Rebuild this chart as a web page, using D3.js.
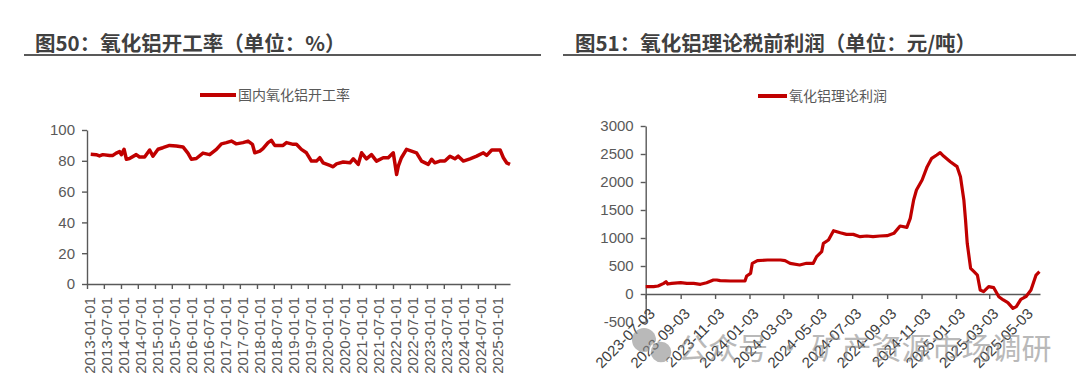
<!DOCTYPE html>
<html>
<head>
<meta charset="utf-8">
<script src="https://cdn.jsdelivr.net/npm/d3@7"></script>
<style>
body { margin: 0; background: #fff; }
svg { display: block; font-family: "Liberation Sans", Arial, "Noto Sans CJK SC", sans-serif; }
</style>
</head>
<body>
<svg id="chart"></svg>
<script>
// 图50 国内氧化铝开工率 (%)
const rateDates = ['2013-02-10','2013-04-09','2013-05-15','2013-06-20','2013-09-01','2013-10-06','2013-11-11','2013-12-17',
  '2014-01-05','2014-02-03','2014-02-28','2014-04-03','2014-06-14','2014-07-19','2014-09-12','2014-11-05','2014-12-10',
  '2015-02-03','2015-03-27','2015-06-07','2015-08-18','2015-10-29','2015-12-21','2016-01-27','2016-03-20','2016-05-31',
  '2016-08-11','2016-10-22','2016-12-15','2017-02-07','2017-04-01','2017-05-24','2017-08-04','2017-09-27','2017-11-13',
  '2017-12-08','2018-02-01','2018-03-06','2018-04-30','2018-06-04','2018-07-10','2018-10-08','2018-11-14','2019-01-25',
  '2019-03-01','2019-04-23','2019-06-16','2019-08-09','2019-10-02','2019-11-07','2019-12-12','2020-02-23','2020-03-29',
  '2020-05-04','2020-07-15','2020-09-26','2020-10-31','2020-12-24','2021-01-29','2021-03-22','2021-05-15','2021-07-08',
  '2021-09-18','2021-11-11','2022-01-04','2022-02-09','2022-02-27','2022-04-02','2022-05-26','2022-07-19','2022-09-11',
  '2022-11-04','2023-01-15','2023-02-20','2023-03-26','2023-05-19','2023-07-12','2023-09-05','2023-10-28','2023-12-03',
  '2024-01-26','2024-04-07','2024-06-18','2024-08-29','2024-10-04','2024-11-27','2025-02-25','2025-04-01','2025-05-06',
  '2025-06-11'];
const rateValues = [84.3,84,83.2,84,83.4,83.5,85,86,
  84,87.5,81,81.5,84,82.5,82.5,87,83,
  87.5,88.5,90,89.6,89,85,81,81.5,85,
  84,87.4,91,91.8,92.8,91,91.8,92.8,90.7,
  85.2,86.3,87.9,91.8,93.3,90,90,91.8,90.7,
  90.7,87.4,85.2,79.8,79.8,82,78.7,77,76.1,
  78,79.2,78.7,81.3,77.7,85.2,81.3,84,79.8,
  82,82,85.2,71.1,76.6,82,87.4,86.3,85.2,
  79.8,77.7,81,78.7,79.8,79.8,83,81.3,83,
  79.8,81.3,83,85.2,83.5,87,87,82,78.7,
  77.7];
const rateXTicks = ['2013-01-01','2013-07-01','2014-01-01','2014-07-01','2015-01-01','2015-07-01','2016-01-01',
  '2016-07-01','2017-01-01','2017-07-01','2018-01-01','2018-07-01','2019-01-01','2019-07-01','2020-01-01',
  '2020-07-01','2021-01-01','2021-07-01','2022-01-01','2022-07-01','2023-01-01','2023-07-01','2024-01-01',
  '2024-07-01','2025-01-01'];
const rateYTicks = [0, 20, 40, 60, 80, 100];

// 图51 氧化铝理论利润 (元/吨)
const profitDates = ['2023-07-03','2023-07-17','2023-07-25','2023-08-04','2023-08-08','2023-08-11','2023-08-18',
  '2023-09-03','2023-09-14','2023-09-26','2023-10-08','2023-10-19','2023-10-31','2023-11-06','2023-11-12',
  '2023-11-30','2023-12-17','2023-12-26','2023-12-29','2024-01-05','2024-01-08','2024-01-17','2024-02-04',
  '2024-02-27','2024-03-06','2024-03-15','2024-04-01','2024-04-13','2024-04-25','2024-05-01','2024-05-10',
  '2024-05-13','2024-05-22','2024-05-31','2024-06-12','2024-06-23','2024-07-05','2024-07-17','2024-07-29',
  '2024-08-09','2024-08-21','2024-09-03','2024-09-15','2024-09-26','2024-10-08','2024-10-14','2024-10-20',
  '2024-10-25','2024-11-04','2024-11-13','2024-11-21','2024-11-30','2024-12-06','2024-12-12','2024-12-24',
  '2025-01-05','2025-01-11','2025-01-17','2025-01-20','2025-01-23','2025-01-29','2025-02-04','2025-02-10',
  '2025-02-15','2025-02-21','2025-03-02','2025-03-11','2025-03-20','2025-03-28','2025-04-05','2025-04-14',
  '2025-04-20','2025-04-28','2025-05-07','2025-05-16','2025-05-25','2025-05-31'];
const profitValues = [131,131,143,190,220,178,190,
  202,190,190,173,202,250,250,238,
  232,232,232,321,369,548,595,607,
  607,595,548,518,548,548,667,756,
  905,964,1131,1095,1065,1065,1024,1036,
  1024,1036,1042,1083,1214,1190,1351,1679,
  1857,2036,2274,2423,2482,2524,2464,2363,
  2274,2095,1679,1321,905,458,399,339,
  71,42,131,113,-48,-107,-155,-256,
  -226,-95,-48,71,339,399];
const profitXTicks = ['2023-07-03','2023-09-03','2023-11-03','2024-01-03','2024-03-03','2024-05-03',
  '2024-07-03','2024-09-03','2024-11-03','2025-01-03','2025-03-03','2025-05-03'];
const profitYTicks = [-500, 0, 500, 1000, 1500, 2000, 2500, 3000];

const parse = d3.timeParse('%Y-%m-%d');
const fmt = d3.timeFormat('%Y-%m-%d');
const red = '#c00000';
const grey = '#595959';

const svg = d3.select('#chart')
    .attr('width', 1080)
    .attr('height', 389);

svg.append('rect')
    .attr('width', 1080)
    .attr('height', 389)
    .attr('fill', '#fff');

// titles with underline
function drawTitle(x, x1, x2, text) {
    svg.append('text')
        .attr('x', x)
        .attr('y', 51)
        .attr('fill', '#404040')
        .style('font-family', '"Noto Sans CJK SC", sans-serif')
        .style('font-weight', 'bold')
        .style('font-size', '20.5px')
        .text(text);
    svg.append('line')
        .attr('x1', x1).attr('x2', x2)
        .attr('y1', 55).attr('y2', 55)
        .attr('stroke', grey)
        .attr('stroke-width', 2);
}
drawTitle(35, 24, 541, '图50：氧化铝开工率（单位：%）');
drawTitle(575, 563, 1076, '图51：氧化铝理论税前利润（单位：元/吨）');

function drawLegend(x1, x2, y, text) {
    svg.append('line')
        .attr('x1', x1).attr('x2', x2)
        .attr('y1', y).attr('y2', y)
        .attr('stroke', red)
        .attr('stroke-width', 4);
    svg.append('text')
        .attr('x', x2 + 2)
        .attr('y', y + 5)
        .attr('fill', grey)
        .style('font-family', '"Noto Sans CJK SC", sans-serif')
        .style('font-size', '14px')
        .text(text);
}
drawLegend(200, 236, 95, '国内氧化铝开工率');
drawLegend(758, 787, 96, '氧化铝理论利润');

function styleAxis(g) {
    g.select('.domain').attr('stroke', grey).attr('stroke-width', 1.4);
    g.selectAll('.tick line').attr('stroke', grey).attr('stroke-width', 1.4);
    g.selectAll('.tick text').attr('fill', grey).style('font-size', '15px');
}

// ---- left chart ----
const x1 = d3.scaleTime()
    .domain([parse('2013-01-01'), parse('2025-06-11')])
    .range([87, 510]);
const y1 = d3.scaleLinear()
    .domain([0, 100])
    .range([284, 130]);

svg.append('g')
    .attr('transform', 'translate(87,0)')
    .call(d3.axisLeft(y1).tickValues(rateYTicks).tickSize(5).tickPadding(7).tickSizeOuter(0))
    .call(styleAxis);

const xg1 = svg.append('g')
    .attr('transform', 'translate(0,284)')
    .call(d3.axisBottom(x1).tickValues(rateXTicks.map(parse)).tickFormat(fmt).tickSize(5).tickSizeOuter(0))
    .call(styleAxis);
xg1.selectAll('.tick text')
    .attr('x', -13)
    .attr('y', 0)
    .attr('dy', '0.5em')
    .attr('transform', 'rotate(-90)')
    .style('text-anchor', 'end');

const rateData = rateDates.map((d, i) => ({ date: parse(d), value: rateValues[i] }));
svg.append('path')
    .datum(rateData)
    .attr('fill', 'none')
    .attr('stroke', red)
    .attr('stroke-width', 3.5)
    .attr('stroke-linejoin', 'round')
    .attr('d', d3.line().x(d => x1(d.date)).y(d => y1(d.value)));

// ---- right chart ----
const x2 = d3.scaleTime()
    .domain([parse('2023-07-03'), parse('2025-06-01')])
    .range([645.7, 1040]);
const y2 = d3.scaleLinear()
    .domain([-500, 3000])
    .range([322, 126]);

svg.append('g')
    .attr('transform', 'translate(645.7,0)')
    .call(d3.axisLeft(y2).tickValues(profitYTicks).tickFormat(d => String(d)).tickSize(5).tickPadding(7).tickSizeOuter(0))
    .call(styleAxis);

const xg2 = svg.append('g')
    .attr('transform', 'translate(0,' + y2(0) + ')')
    .call(d3.axisBottom(x2).tickValues(profitXTicks.map(parse)).tickFormat(fmt).tickSize(5).tickSizeOuter(0))
    .call(styleAxis);
xg2.selectAll('.tick text')
    .attr('x', 0)
    .attr('y', 0)
    .attr('dy', '0.35em')
    .attr('transform', 'translate(6,17) rotate(-45)')
    .style('text-anchor', 'end')
    .style('fill', '#404040');

const profitData = profitDates.map((d, i) => ({ date: parse(d), value: profitValues[i] }));
svg.append('path')
    .datum(profitData)
    .attr('fill', 'none')
    .attr('stroke', red)
    .attr('stroke-width', 3.2)
    .attr('stroke-linejoin', 'round')
    .attr('d', d3.line().x(d => x2(d.date)).y(d => y2(d.value)));

// watermark
const wm = svg.append('g').attr('opacity', 0.6);
wm.append('circle').attr('cx', 644).attr('cy', 340).attr('r', 12).attr('fill', '#8c8c8c');
wm.append('circle').attr('cx', 661).attr('cy', 352).attr('r', 11).attr('fill', '#8c8c8c')
    .attr('stroke', '#fff').attr('stroke-width', 1.5);
wm.append('text')
    .attr('x', 678)
    .attr('y', 359)
    .attr('fill', '#8c8c8c')
    .style('font-family', '"Noto Sans CJK SC", sans-serif')
    .style('font-size', '30px')
    .text('公众号 · 矿产资源市场调研');
</script>
</body>
</html>
